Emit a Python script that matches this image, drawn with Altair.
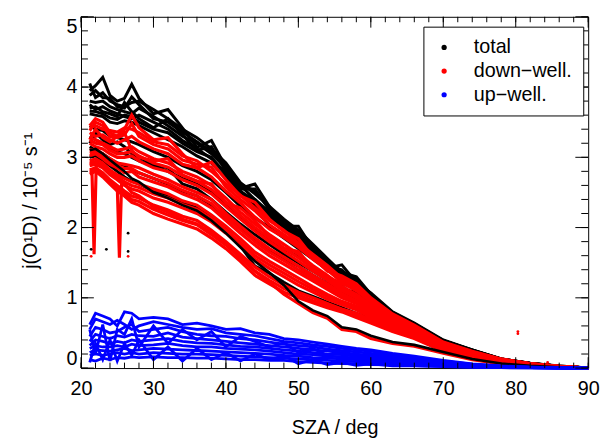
import altair as alt
import pandas as pd

FONT = "Liberation Sans"

# solar zenith angle grid (deg) on which the curves were read
SZA = [21.2, 22, 23, 24, 25, 26, 27, 28, 30, 32, 34, 36, 38, 40, 42, 44, 46, 48,
       50, 52, 54, 56, 58, 60, 63, 66, 70, 74, 78, 82, 86, 90]

# total j(O1D) curves (10^-5 s^-1), drawn behind the down-welling ones
total_back = [
    [3.95, 4.02, 4.14, 3.88, 3.80, 3.84, 4.04, 3.84, 3.62, 3.68, 3.42, 3.14, 3.24, 2.86, 2.56, 2.62,
     2.30, 2.02, 2.02, 1.70, 1.42, 1.47, 1.22, 1.07, 0.80, 0.64, 0.40, 0.26, 0.13, 0.07, 0.03, 0.0],
    [4.05, 3.85, 3.92, 3.80, 3.75, 3.72, 3.78, 3.80, 3.68, 3.55, 3.40, 3.28, 3.12, 2.92, 2.64, 2.48,
     2.30, 2.12, 1.96, 1.76, 1.56, 1.36, 1.30, 1.05, 0.79, 0.63, 0.39, 0.26, 0.13, 0.068, 0.028, 0.0],
    [3.80, 3.78, 3.80, 3.72, 3.68, 3.65, 3.62, 3.70, 3.58, 3.45, 3.30, 3.20, 3.05, 2.85, 2.60, 2.40,
     2.22, 2.06, 1.90, 1.70, 1.52, 1.32, 1.24, 1.02, 0.78, 0.62, 0.39, 0.25, 0.13, 0.066, 0.027, 0.0],
    [3.70, 3.72, 3.65, 3.62, 3.58, 3.78, 3.65, 3.55, 3.42, 3.55, 3.32, 3.10, 3.15, 2.80, 2.55, 2.55,
     2.25, 2.00, 1.95, 1.65, 1.45, 1.40, 1.18, 1.00, 0.77, 0.61, 0.38, 0.25, 0.125, 0.064, 0.026, 0.0],
    [3.62, 3.60, 3.58, 3.50, 3.48, 3.52, 3.50, 3.45, 3.35, 3.25, 3.15, 3.02, 2.92, 2.70, 2.48, 2.32,
     2.15, 1.98, 1.82, 1.64, 1.48, 1.30, 1.14, 0.98, 0.76, 0.60, 0.38, 0.245, 0.12, 0.062, 0.025, 0.0],
    [3.45, 3.40, 3.38, 3.30, 3.28, 3.25, 3.22, 3.18, 3.08, 3.00, 2.88, 2.80, 2.68, 2.50, 2.30, 2.14,
     2.00, 1.85, 1.70, 1.55, 1.40, 1.24, 1.10, 0.94, 0.73, 0.58, 0.36, 0.235, 0.115, 0.06, 0.024, 0.0],
    [3.30, 3.25, 3.20, 3.12, 3.08, 3.05, 3.00, 2.95, 2.88, 2.80, 2.70, 2.62, 2.50, 2.32, 2.14, 1.98,
     1.84, 1.70, 1.58, 1.44, 1.30, 1.16, 1.04, 0.90, 0.70, 0.56, 0.35, 0.225, 0.11, 0.057, 0.022, 0.0],
    [3.15, 3.10, 3.05, 2.98, 2.92, 2.88, 2.82, 2.78, 2.70, 2.62, 2.52, 2.45, 2.32, 2.15, 1.98, 1.82,
     1.68, 1.56, 1.45, 1.32, 1.20, 1.08, 0.98, 0.85, 0.66, 0.53, 0.33, 0.21, 0.105, 0.054, 0.02, 0.0],
    [3.00, 3.02, 2.95, 2.88, 2.80, 2.72, 2.66, 2.62, 2.52, 2.45, 2.35, 2.28, 2.15, 2.00, 1.74, 1.45,
     1.35, 1.22, 1.10, 1.02, 0.94, 0.86, 0.78, 0.70, 0.56, 0.45, 0.27, 0.15, 0.08, 0.04, 0.015, 0.0],
    [3.20, 3.35, 3.25, 3.18, 3.22, 3.15, 3.05, 3.00, 2.90, 2.85, 2.62, 2.55, 2.40, 2.22, 2.05, 1.90,
     1.76, 1.62, 1.50, 1.38, 1.25, 1.12, 1.08, 0.93, 0.72, 0.57, 0.355, 0.23, 0.112, 0.058, 0.023, 0.0],
    [3.88, 3.95, 3.85, 3.84, 3.72, 3.70, 3.86, 3.75, 3.55, 3.50, 3.36, 3.22, 3.08, 2.88, 2.62, 2.52,
     2.28, 2.10, 1.94, 1.72, 1.52, 1.38, 1.26, 1.05, 0.79, 0.63, 0.39, 0.255, 0.128, 0.067, 0.027, 0.0],
    [3.75, 3.68, 3.72, 3.66, 3.62, 3.58, 3.55, 3.60, 3.50, 3.40, 3.24, 3.12, 2.98, 2.78, 2.52, 2.36,
     2.18, 2.02, 1.86, 1.68, 1.50, 1.34, 1.20, 1.02, 0.78, 0.62, 0.385, 0.25, 0.126, 0.065, 0.026, 0.0],
    [3.66, 3.65, 3.62, 3.56, 3.54, 3.60, 3.58, 3.50, 3.40, 3.35, 3.20, 3.08, 3.00, 2.75, 2.50, 2.40,
     2.18, 2.00, 1.86, 1.66, 1.47, 1.33, 1.16, 0.99, 0.765, 0.605, 0.38, 0.245, 0.122, 0.063, 0.025, 0.0],
]
# total curve lying under the bundle at high SZA, drawn on top
total_front = [
    [3.10, 3.12, 3.05, 2.96, 2.88, 2.80, 2.70, 2.65, 2.50, 2.42, 2.32, 2.24, 2.10, 1.92, 1.72, 1.52,
     1.36, 1.18, 0.95, 0.82, 0.74, 0.58, 0.55, 0.46, 0.37, 0.33, 0.23, 0.13, 0.065, 0.032, 0.012, 0.0],
]

# down-welling curves
down_curves = [
    [3.45, 3.55, 3.50, 3.35, 3.30, 3.40, 3.60, 3.42, 3.25, 3.28, 3.05, 2.85, 2.93, 2.68, 2.45, 2.36,
     2.12, 1.95, 1.84, 1.58, 1.38, 1.31, 1.20, 1.00, 0.77, 0.61, 0.37, 0.24, 0.13, 0.065, 0.025, 0.0],
    [3.42, 3.45, 3.40, 3.38, 3.36, 3.42, 3.40, 3.35, 3.22, 3.18, 3.02, 2.95, 2.80, 2.62, 2.46, 2.28,
     2.10, 1.96, 1.78, 1.62, 1.46, 1.28, 1.16, 0.98, 0.75, 0.60, 0.36, 0.23, 0.125, 0.062, 0.024, 0.0],
    [3.35, 3.30, 3.32, 3.25, 3.20, 3.25, 3.30, 3.22, 3.12, 3.05, 2.90, 2.85, 2.72, 2.52, 2.35, 2.15,
     1.98, 1.86, 1.72, 1.55, 1.40, 1.22, 1.10, 0.94, 0.72, 0.58, 0.35, 0.22, 0.12, 0.058, 0.022, 0.0],
    [3.28, 3.25, 3.20, 3.15, 3.10, 3.12, 3.15, 3.08, 2.98, 2.92, 2.80, 2.72, 2.60, 2.42, 2.22, 2.05,
     1.90, 1.76, 1.62, 1.46, 1.32, 1.16, 1.05, 0.90, 0.70, 0.56, 0.33, 0.21, 0.11, 0.055, 0.02, 0.0],
    [3.20, 3.15, 3.12, 3.05, 3.00, 3.00, 3.02, 2.95, 2.85, 2.80, 2.68, 2.60, 2.48, 2.30, 2.12, 1.95,
     1.80, 1.66, 1.52, 1.38, 1.25, 1.10, 1.00, 0.86, 0.67, 0.54, 0.32, 0.20, 0.105, 0.052, 0.019, 0.0],
    [3.10, 3.12, 3.05, 2.98, 2.92, 2.90, 2.88, 2.85, 2.76, 2.68, 2.58, 2.50, 2.40, 2.20, 2.02, 1.85,
     1.70, 1.58, 1.45, 1.32, 1.20, 1.06, 0.96, 0.83, 0.64, 0.52, 0.31, 0.19, 0.10, 0.05, 0.018, 0.0],
    [3.02, 3.05, 2.98, 2.90, 2.85, 2.78, 2.80, 2.72, 2.65, 2.58, 2.48, 2.40, 2.28, 2.10, 1.92, 1.75,
     1.60, 1.48, 1.36, 1.24, 1.12, 1.00, 0.92, 0.79, 0.62, 0.50, 0.29, 0.18, 0.095, 0.046, 0.016, 0.0],
    [2.95, 2.98, 2.92, 2.82, 2.75, 2.70, 2.65, 2.62, 2.55, 2.48, 2.38, 2.32, 2.18, 2.02, 1.84, 1.65,
     1.52, 1.40, 1.28, 1.16, 1.05, 0.95, 0.88, 0.76, 0.60, 0.48, 0.28, 0.17, 0.09, 0.043, 0.015, 0.0],
    [2.88, 2.90, 2.85, 2.75, 2.68, 2.60, 2.55, 2.52, 2.42, 2.36, 2.28, 2.20, 2.08, 1.92, 1.74, 1.55,
     1.42, 1.30, 1.18, 1.08, 0.98, 0.90, 0.83, 0.72, 0.57, 0.46, 0.27, 0.16, 0.085, 0.04, 0.013, 0.0],
    [2.82, 2.85, 2.78, 2.68, 2.60, 2.52, 2.45, 2.42, 2.32, 2.25, 2.16, 2.10, 1.96, 1.80, 1.62, 1.44,
     1.30, 1.18, 1.08, 1.00, 0.92, 0.84, 0.78, 0.68, 0.55, 0.44, 0.25, 0.14, 0.08, 0.035, 0.012, 0.0],
    [2.76, 2.80, 2.72, 2.62, 2.52, 2.45, 2.36, 2.32, 2.20, 2.12, 2.05, 1.98, 1.85, 1.70, 1.52, 1.32,
     1.20, 1.08, 1.00, 0.93, 0.86, 0.80, 0.72, 0.64, 0.52, 0.42, 0.24, 0.13, 0.07, 0.03, 0.01, 0.0],
    [2.90, 2.92, 2.88, 2.78, 2.70, 2.62, 2.50, 2.45, 2.30, 2.22, 2.12, 2.05, 1.92, 1.76, 1.58, 1.38,
     1.22, 1.05, 0.92, 0.79, 0.71, 0.55, 0.52, 0.42, 0.35, 0.31, 0.21, 0.12, 0.06, 0.03, 0.01, 0.0],
    [3.25, 3.40, 3.28, 3.22, 3.30, 3.35, 3.10, 3.00, 2.95, 2.98, 2.75, 2.66, 2.62, 2.35, 2.28, 2.10,
     1.88, 1.70, 1.66, 1.42, 1.30, 1.20, 1.12, 0.95, 0.73, 0.59, 0.35, 0.22, 0.12, 0.06, 0.022, 0.0],
    [3.38, 3.50, 3.45, 3.30, 3.28, 3.32, 3.48, 3.30, 3.18, 3.12, 2.96, 2.90, 2.86, 2.58, 2.40, 2.24,
     2.04, 1.90, 1.75, 1.58, 1.43, 1.25, 1.13, 0.96, 0.74, 0.59, 0.355, 0.225, 0.122, 0.06, 0.023, 0.0],
    [3.24, 3.20, 3.18, 3.10, 3.05, 3.06, 3.08, 3.02, 2.92, 2.86, 2.74, 2.66, 2.54, 2.36, 2.17, 2.00,
     1.85, 1.71, 1.57, 1.42, 1.28, 1.13, 1.02, 0.88, 0.68, 0.55, 0.325, 0.205, 0.108, 0.053, 0.02, 0.0],
    [3.06, 3.08, 3.02, 2.94, 2.88, 2.84, 2.84, 2.78, 2.70, 2.63, 2.53, 2.45, 2.34, 2.15, 1.97, 1.80,
     1.65, 1.53, 1.40, 1.28, 1.16, 1.03, 0.94, 0.81, 0.63, 0.51, 0.30, 0.185, 0.098, 0.048, 0.017, 0.0],
    [2.92, 2.94, 2.88, 2.78, 2.72, 2.65, 2.60, 2.57, 2.48, 2.42, 2.33, 2.26, 2.13, 1.97, 1.79, 1.60,
     1.47, 1.35, 1.23, 1.12, 1.02, 0.92, 0.85, 0.74, 0.58, 0.47, 0.275, 0.165, 0.088, 0.042, 0.014, 0.0],
    [2.79, 2.82, 2.75, 2.65, 2.56, 2.48, 2.40, 2.37, 2.26, 2.18, 2.10, 2.04, 1.90, 1.75, 1.57, 1.38,
     1.25, 1.13, 1.04, 0.96, 0.89, 0.82, 0.75, 0.66, 0.53, 0.43, 0.245, 0.135, 0.075, 0.032, 0.011, 0.0],
]
# two short down-welling dips near the start of the record
dip_sza = [[21.5, 21.8, 22.1], [25.0, 25.3, 25.6]]
dip_val = [[2.85, 1.62, 2.90], [2.60, 1.57, 2.62]]

# up-welling curves
up_curves = [
    [0.62, 0.78, 0.74, 0.70, 0.60, 0.80, 0.78, 0.70, 0.72, 0.70, 0.62, 0.64, 0.60, 0.55, 0.56, 0.50,
     0.48, 0.42, 0.40, 0.37, 0.34, 0.31, 0.28, 0.26, 0.21, 0.17, 0.11, 0.06, 0.03, 0.015, 0.005, 0.0],
    [0.55, 0.70, 0.66, 0.62, 0.68, 0.62, 0.55, 0.60, 0.66, 0.62, 0.58, 0.55, 0.56, 0.50, 0.48, 0.46,
     0.42, 0.38, 0.36, 0.33, 0.31, 0.28, 0.26, 0.24, 0.19, 0.15, 0.10, 0.055, 0.028, 0.012, 0.004, 0.0],
    [0.45, 0.58, 0.55, 0.50, 0.52, 0.58, 0.62, 0.52, 0.55, 0.58, 0.52, 0.48, 0.46, 0.45, 0.42, 0.40,
     0.37, 0.34, 0.32, 0.30, 0.27, 0.25, 0.23, 0.21, 0.17, 0.13, 0.09, 0.05, 0.025, 0.01, 0.004, 0.0],
    [0.38, 0.48, 0.45, 0.42, 0.46, 0.44, 0.48, 0.46, 0.45, 0.50, 0.44, 0.42, 0.40, 0.38, 0.36, 0.34,
     0.32, 0.30, 0.28, 0.26, 0.24, 0.22, 0.20, 0.18, 0.15, 0.12, 0.08, 0.045, 0.022, 0.01, 0.003, 0.0],
    [0.32, 0.40, 0.38, 0.35, 0.38, 0.36, 0.40, 0.38, 0.40, 0.42, 0.38, 0.36, 0.35, 0.33, 0.31, 0.30,
     0.28, 0.26, 0.24, 0.22, 0.20, 0.19, 0.17, 0.16, 0.13, 0.10, 0.07, 0.04, 0.02, 0.008, 0.003, 0.0],
    [0.28, 0.32, 0.30, 0.30, 0.32, 0.30, 0.34, 0.32, 0.33, 0.35, 0.32, 0.30, 0.30, 0.28, 0.27, 0.26,
     0.24, 0.22, 0.20, 0.19, 0.17, 0.16, 0.14, 0.13, 0.11, 0.09, 0.06, 0.035, 0.018, 0.007, 0.002, 0.0],
    [0.22, 0.26, 0.25, 0.24, 0.26, 0.28, 0.25, 0.26, 0.28, 0.27, 0.26, 0.25, 0.24, 0.23, 0.22, 0.21,
     0.20, 0.18, 0.17, 0.15, 0.14, 0.13, 0.12, 0.11, 0.09, 0.07, 0.05, 0.03, 0.015, 0.006, 0.002, 0.0],
    [0.18, 0.20, 0.18, 0.20, 0.22, 0.20, 0.22, 0.20, 0.22, 0.21, 0.20, 0.20, 0.19, 0.18, 0.17, 0.16,
     0.15, 0.14, 0.13, 0.12, 0.11, 0.10, 0.09, 0.08, 0.07, 0.055, 0.04, 0.02, 0.01, 0.005, 0.002, 0.0],
    [0.12, 0.10, 0.14, 0.12, 0.15, 0.14, 0.16, 0.15, 0.16, 0.15, 0.15, 0.14, 0.14, 0.13, 0.12, 0.12,
     0.11, 0.11, 0.09, 0.08, 0.07, 0.065, 0.06, 0.05, 0.045, 0.035, 0.025, 0.012, 0.006, 0.003, 0.001, 0.0],
    [0.55, 0.20, 0.62, 0.10, 0.55, 0.48, 0.70, 0.30, 0.60, 0.35, 0.55, 0.40, 0.52, 0.30, 0.45, 0.38,
     0.30, 0.36, 0.22, 0.28, 0.18, 0.22, 0.15, 0.18, 0.12, 0.10, 0.06, 0.035, 0.018, 0.008, 0.003, 0.0],
    [0.08, 0.35, 0.12, 0.40, 0.10, 0.35, 0.18, 0.40, 0.12, 0.30, 0.10, 0.28, 0.12, 0.22, 0.10, 0.20,
     0.12, 0.18, 0.06, 0.12, 0.05, 0.08, 0.04, 0.06, 0.03, 0.03, 0.02, 0.01, 0.005, 0.002, 0.001, 0.0],
]

# isolated points
dot_sza = [80.3, 80.3, 84.4, 21.4, 26.5, 21.4, 23.5, 26.5, 26.5]
dot_val = [0.49, 0.52, 0.08, 1.59, 1.59, 1.69, 1.69, 1.66, 1.92]
dot_series = ["down−well."] * 5 + ["total"] * 4

SERIES = ["total", "down−well.", "up−well."]
COLORS = ["#000000", "#ff0000", "#0000ff"]

X_MAJOR = [20, 30, 40, 50, 60, 70, 80, 90]
X_MINOR = list(range(20, 91, 2))
Y_MAJOR = [0, 1, 2, 3, 4, 5]
Y_MINOR = [round(0.2 * i, 1) for i in range(26)]

W, H = 514, 356


def frame(curves, series, tag, sza_lists=None):
    rows = []
    for i, vals in enumerate(curves):
        xs_ = SZA if sza_lists is None else sza_lists[i]
        for s, v in zip(xs_, vals):
            rows.append({"sza": s, "j": v, "series": series, "curve": f"{tag}{i}"})
    return pd.DataFrame(rows)


df_tb = frame(total_back, "total", "tb")
df_tf = frame(total_front, "total", "tf")
df_dn = pd.concat([frame(down_curves, "down−well.", "d"),
                   frame(dip_val, "down−well.", "dd", dip_sza)])
df_up = frame(up_curves, "up−well.", "u")
df_dots = pd.DataFrame({"sza": dot_sza, "j": dot_val, "series": dot_series})

xs = alt.Scale(domain=[20, 90], nice=False, zero=False)
ys = alt.Scale(domain=[0, 5], nice=False, zero=False)
cs = alt.Scale(domain=SERIES, range=COLORS)

ax_bottom = alt.Axis(
    values=X_MAJOR, ticks=False, tickSize=0, domain=False, grid=False,
    labelFont=FONT, labelFontSize=20, labelColor="black", labelPadding=11,
    labelFlush=False, labelOverlap=False,
    title="SZA / deg", titleFont=FONT, titleFontSize=20, titleFontWeight="normal",
    titleColor="black", titleX=W / 2, titleY=66, titleBaseline="alphabetic",
    titleAlign="center",
)
ax_left = alt.Axis(
    values=Y_MAJOR, ticks=False, tickSize=0, domain=False, grid=False,
    labelFont=FONT, labelFontSize=20, labelColor="black", labelPadding=4,
    labelFlush=True, labelOverlap=False,
    title="j(O¹D) / 10⁻⁵ s⁻¹", titleFont=FONT, titleFontSize=20,
    titleFontWeight="normal", titleColor="black", titleX=-45, titleY=186,
    titleAngle=270, titleBaseline="alphabetic", titleAlign="center",
)


def lines(df, color, width):
    return alt.Chart(df).mark_line(strokeWidth=width, color=color).encode(
        x=alt.X("sza:Q", scale=xs, axis=ax_bottom),
        y=alt.Y("j:Q", scale=ys, axis=ax_left),
        detail="curve:N",
    )


l_back = lines(df_tb, COLORS[0], 3.0)
l_red = lines(df_dn, COLORS[1], 3.2)
l_front = lines(df_tf, COLORS[0], 2.6)
l_blue = lines(df_up, COLORS[2], 2.8)

dots = alt.Chart(df_dots).mark_circle(size=8, opacity=1).encode(
    x=alt.X("sza:Q", scale=xs, axis=ax_bottom),
    y=alt.Y("j:Q", scale=ys, axis=ax_left),
    color=alt.Color("series:N", scale=cs, legend=alt.Legend(
        orient="none", legendX=347, legendY=10, title=None,
        labelFont=FONT, labelFontSize=20, labelColor="black",
        symbolType="circle", symbolSize=28, symbolStrokeWidth=0, symbolOpacity=1,
        padding=11, labelOffset=20, rowPadding=4,
        strokeColor="black", fillColor="white", cornerRadius=0)),
)


# inward tick marks on all four sides, placed through the shared scales
def xticks(values, y0, y1):
    return alt.Chart(pd.DataFrame({"v": values})).mark_rule(
        color="black", strokeWidth=1).encode(
        x=alt.X("v:Q", scale=xs, axis=ax_bottom), y=alt.value(y0), y2=alt.value(y1))


def yticks(values, x0, x1):
    return alt.Chart(pd.DataFrame({"v": values})).mark_rule(
        color="black", strokeWidth=1).encode(
        y=alt.Y("v:Q", scale=ys, axis=ax_left), x=alt.value(x0), x2=alt.value(x1))


ticks = [
    xticks(X_MINOR, H, H - 5.5), xticks(X_MAJOR, H, H - 11),
    xticks(X_MINOR, 0, 5.5), xticks(X_MAJOR, 0, 11),
    yticks(Y_MINOR, 0, 7), yticks(Y_MAJOR, 0, 13),
    yticks(Y_MINOR, W, W - 7), yticks(Y_MAJOR, W, W - 13),
]

chart = alt.layer(l_back, l_red, l_front, l_blue, dots, *ticks).properties(
    width=W, height=H,
    autosize=alt.AutoSizeParams(type="none"),
    padding={"left": 74, "top": 6, "right": 14, "bottom": 71},
    background="white",
).configure_view(stroke="black", strokeWidth=1)

chart.save("out.html", embed_options={"renderer": "svg", "actions": False})
